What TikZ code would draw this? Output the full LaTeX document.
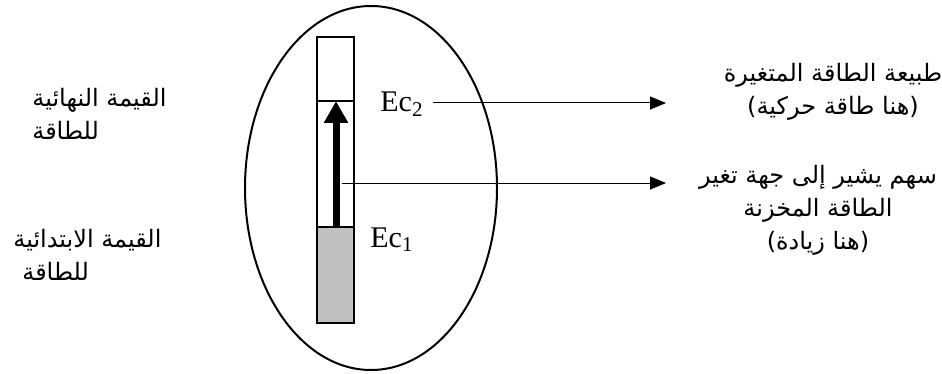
\documentclass[tikz,border=0pt]{standalone}
\usepackage{fontspec}
\setmainfont{Liberation Serif}
\newfontfamily\arabicfont[Script=Arabic]{DejaVu Sans}
\TeXXeTstate=1
\usetikzlibrary{arrows.meta,positioning,shapes.geometric}
\definecolor{Store}{HTML}{C0C0C0}

\begin{document}
\begin{tikzpicture}[x=0.5pt,y=-0.5pt,>={Triangle[length=8pt,width=6.5pt]},
  ar/.style={font=\arabicfont\fontsize{12}{16.5}\selectfont,inner sep=0pt},
  ec/.style={font=\fontsize{15}{17}\selectfont,inner sep=0pt}]
  \useasboundingbox (0,0) rectangle (942,374);
  % ellipse and the energy bar
  \node[draw,line width=1pt,ellipse,minimum width=126pt,minimum height=182pt,inner sep=0pt] (e) at (371,188) {};
  \draw[line width=0.7pt] (317,37) rectangle (354,323);
  \draw[line width=0.7pt,fill=Store] (317,227) rectangle (354,323);
  \draw[line width=0.7pt] (317,101) -- (354,101);
  \coordinate (lo) at (336,227);
  \coordinate (hi) at (336,101);
  \draw[line width=3.5pt,-{Triangle[length=11pt,width=11.5pt]}] (lo) -- (hi);
  % labels of the bar
  \node[ec,anchor=base west] (ec2) at (380,112) {Ec\textsubscript{2}};
  \node[ec,anchor=base west] (ec1) at (370,247) {Ec\textsubscript{1}};
  \coordinate (t2) at (666,103);
  \coordinate (t1) at (666,183);
  \coordinate (s1) at (342,183);
  \draw[->,line width=0.5pt] ([xshift=4.5pt]ec2.east |- t2) -- (t2);
  \draw[->,line width=0.5pt] (s1) -- (t1);
  % texts
  \node[ar,align=center] (nat) at (833,92) {\beginR طبيعة الطاقة المتغيرة\endR\\\beginR(هنا طاقة حركية)\endR};
  \node[ar,align=center] (dir) at (818,210) {\beginR سهم يشير إلى جهة تغير\endR\\\beginR الطاقة المخزنة\endR\\\beginR(هنا زيادة)\endR};
  \node[ar,align=left,anchor=west] (fin) at (32,114) {\beginR القيمة النهائية\endR\\\beginR للطاقة\endR};
  \node[ar,align=left,anchor=west] (ini) at (13,255) {\beginR القيمة الابتدائية\endR\\\hspace*{4.5pt}\beginR للطاقة\endR};
\end{tikzpicture}
\end{document}
